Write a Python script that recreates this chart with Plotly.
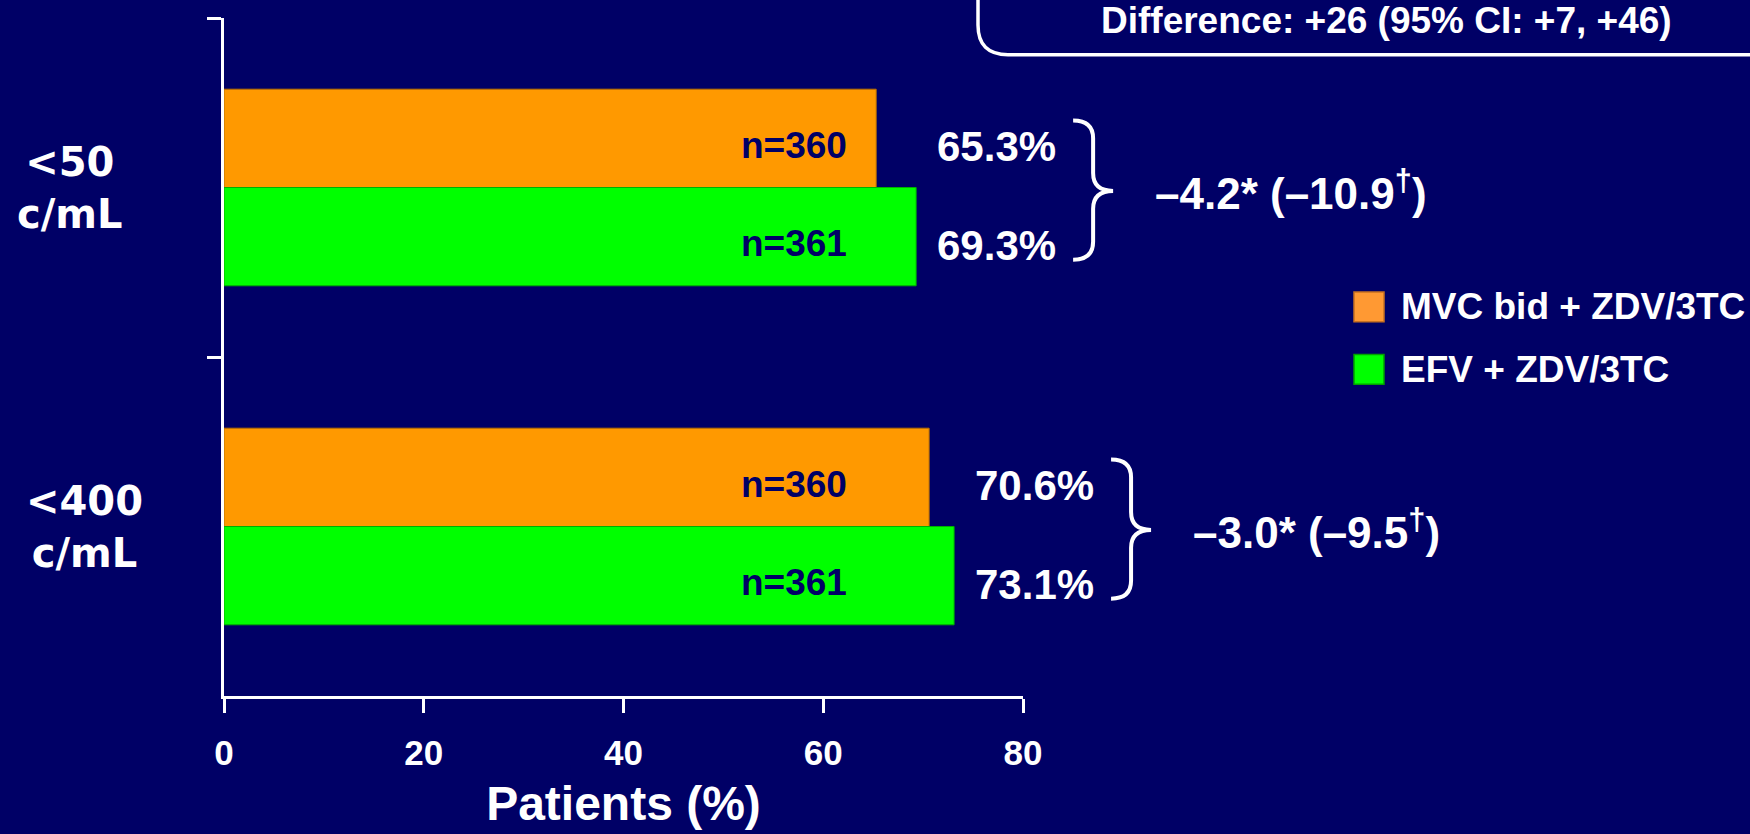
import plotly.graph_objects as go

# ---- data -------------------------------------------------------------
categories = ["<50 c/mL", "<400 c/mL"]
category_labels = ["&lt;50<br>c/mL", "&lt;400<br>c/mL"]
mvc_pct = [65.3, 70.6]          # MVC bid + ZDV/3TC
efv_pct = [69.3, 73.1]          # EFV + ZDV/3TC
mvc_n = [360, 360]
efv_n = [361, 361]
diff_est = [-4.2, -3.0]
diff_lower = [-10.9, -9.5]
series_names = ["MVC bid + ZDV/3TC", "EFV + ZDV/3TC"]
x_ticks = [0, 20, 40, 60, 80]
header_text = "Difference: +26 (95% CI: +7, +46)"

# ---- styling / geometry ----------------------------------------------
W, H = 1750, 834
PLOT_L, PLOT_R, PLOT_T, PLOT_B = 224, 1023, 18, 701
X_MAX = 80
BG = "#000066"
ORANGE, ORANGE_EDGE = "#FF9900", "#B86E00"
GREEN, GREEN_EDGE = "#00FF00", "#00B000"
LEG_ORANGE = "#FF9933"
BARGAP = 0.42
ARIAL = "Liberation Sans"
WIDE = "DejaVu Sans"


def px_to_paper_x(px):
    return (px - PLOT_L) / (PLOT_R - PLOT_L)


def py_to_paper_y(py):
    return (PLOT_B - py) / (PLOT_B - PLOT_T)


def data_x_to_px(v):
    return PLOT_L + v / X_MAX * (PLOT_R - PLOT_L)


def cat_to_py(pos):
    # category axis runs from -0.5 (top) to 1.5 (bottom)
    return PLOT_T + (pos + 0.5) / len(categories) * (PLOT_B - PLOT_T)


def to_path(points):
    out = []
    for p in points:
        cmd, coords = p[0], p[1:]
        xy = [f"{px_to_paper_x(coords[k]):.5f},{py_to_paper_y(coords[k + 1]):.5f}"
              for k in range(0, len(coords), 2)]
        out.append(cmd + " ".join(xy))
    return " ".join(out)


fig = go.Figure()
fig.add_trace(go.Bar(
    y=categories, x=mvc_pct, orientation="h", name=series_names[0],
    marker=dict(color=ORANGE, line=dict(color=ORANGE_EDGE, width=1)),
    showlegend=False, hoverinfo="skip",
))
fig.add_trace(go.Bar(
    y=categories, x=efv_pct, orientation="h", name=series_names[1],
    marker=dict(color=GREEN, line=dict(color=GREEN_EDGE, width=1)),
    showlegend=False, hoverinfo="skip",
))

annotations = []
shapes = []
bar_half = (1 - BARGAP) / 4  # offset of each bar centre from its category centre
cat_label_x_px = [70, 84]

for i, cat in enumerate(categories):
    # category label left of the axis
    annotations.append(dict(
        xref="paper", yref="y", x=px_to_paper_x(cat_label_x_px[i]), y=i,
        text=category_labels[i], showarrow=False, xanchor="center", yanchor="middle",
        font=dict(family=WIDE, size=40, color="white", weight="bold"), align="center",
    ))
    # n= labels inside the bars
    for off, n in ((-bar_half, mvc_n[i]), (bar_half, efv_n[i])):
        annotations.append(dict(
            xref="x", yref="y", x=51.6, y=i + off + 0.02, text=f"n={n}",
            showarrow=False, xanchor="left", yanchor="middle",
            font=dict(family=ARIAL, size=37, color=BG, weight="bold"),
        ))
    # percentage labels right of the bars
    label_x = max(mvc_pct[i], efv_pct[i]) + 1.9
    for off, v in ((-bar_half, mvc_pct[i]), (bar_half, efv_pct[i])):
        annotations.append(dict(
            xref="x", yref="y", x=label_x, y=i + off + 0.025, text=f"{v:.1f}%",
            showarrow=False, xanchor="left", yanchor="middle",
            font=dict(family=ARIAL, size=42, color="white", weight="bold"),
        ))
    # curly brace grouping the two percentages
    bx0 = data_x_to_px(label_x) + 138
    bw = 40
    bm = bx0 + bw / 2
    yt, yb, ym = cat_to_py(i - 0.198), cat_to_py(i + 0.213), cat_to_py(i + 0.01)
    r = 18
    brace = [
        ("M", bx0, yt), ("Q", bm, yt, bm, yt + r), ("L", bm, ym - r),
        ("Q", bm, ym, bx0 + bw, ym), ("Q", bm, ym, bm, ym + r),
        ("L", bm, yb - r), ("Q", bm, yb, bx0, yb),
    ]
    shapes.append(dict(type="path", xref="paper", yref="paper", path=to_path(brace),
                       line=dict(color="white", width=4)))
    # difference text
    diff_txt = f"–{abs(diff_est[i]):.1f}* (–{abs(diff_lower[i]):.1f}<sup>†</sup>)"
    annotations.append(dict(
        xref="paper", yref="y", x=px_to_paper_x(bx0 + bw + 40), y=i + 0.01,
        text=diff_txt, showarrow=False, xanchor="left", yanchor="middle",
        font=dict(family=ARIAL, size=44, color="white", weight="bold"),
    ))

# legend drawn as swatches + labels
leg_items = [(series_names[0], LEG_ORANGE, "#C87020", 309),
             (series_names[1], GREEN, "#00A000", 372)]
for name, fill, edge, cy in leg_items:
    shapes.append(dict(type="rect", xref="paper", yref="paper",
                       x0=px_to_paper_x(1354), x1=px_to_paper_x(1384),
                       y0=py_to_paper_y(cy + 15), y1=py_to_paper_y(cy - 15),
                       fillcolor=fill, line=dict(color=edge, width=1.5)))
    annotations.append(dict(
        xref="paper", yref="paper", x=px_to_paper_x(1399), y=py_to_paper_y(cy),
        text=name, showarrow=False, xanchor="left", yanchor="middle",
        font=dict(family=ARIAL, size=37, color="white", weight="bold"),
    ))

# rounded header box running off the top-right corner
hx, hy, hr = 978, 55, 30
box = [("M", hx, -10), ("L", hx, hy - hr), ("Q", hx, hy, hx + hr, hy), ("L", W + 10, hy)]
shapes.append(dict(type="path", xref="paper", yref="paper", path=to_path(box),
                   line=dict(color="white", width=3.5)))
annotations.append(dict(
    xref="paper", yref="paper", x=px_to_paper_x(1386), y=py_to_paper_y(21),
    text=header_text, showarrow=False, xanchor="center", yanchor="middle",
    font=dict(family=ARIAL, size=37, color="white", weight="bold"),
))

fig.update_layout(
    width=W, height=H,
    margin=dict(l=PLOT_L, r=W - PLOT_R, t=PLOT_T, b=H - PLOT_B, pad=0),
    paper_bgcolor=BG, plot_bgcolor=BG,
    barmode="group", bargap=BARGAP, bargroupgap=0,
    showlegend=False,
    annotations=annotations, shapes=shapes,
    xaxis=dict(
        range=[0, X_MAX], tickvals=x_ticks, ticktext=[str(t) for t in x_ticks],
        ticks="outside", ticklen=14, tickwidth=3, tickcolor="white",
        showline=True, linewidth=3, linecolor="white",
        showgrid=False, zeroline=False,
        tickfont=dict(family=ARIAL, size=35, color="white", weight="bold"),
        ticklabelstandoff=10,
        title=dict(text="Patients (%)", standoff=16,
                   font=dict(family=ARIAL, size=48, color="white", weight="bold")),
    ),
    yaxis=dict(
        type="category", categoryorder="array", categoryarray=categories,
        range=[len(categories) - 0.5, -0.5],
        tickson="boundaries", ticks="outside", ticklen=14, tickwidth=3,
        tickcolor="white", showticklabels=False,
        showline=True, linewidth=3, linecolor="white",
        showgrid=False, zeroline=False,
    ),
)

fig.write_html("out.html")
